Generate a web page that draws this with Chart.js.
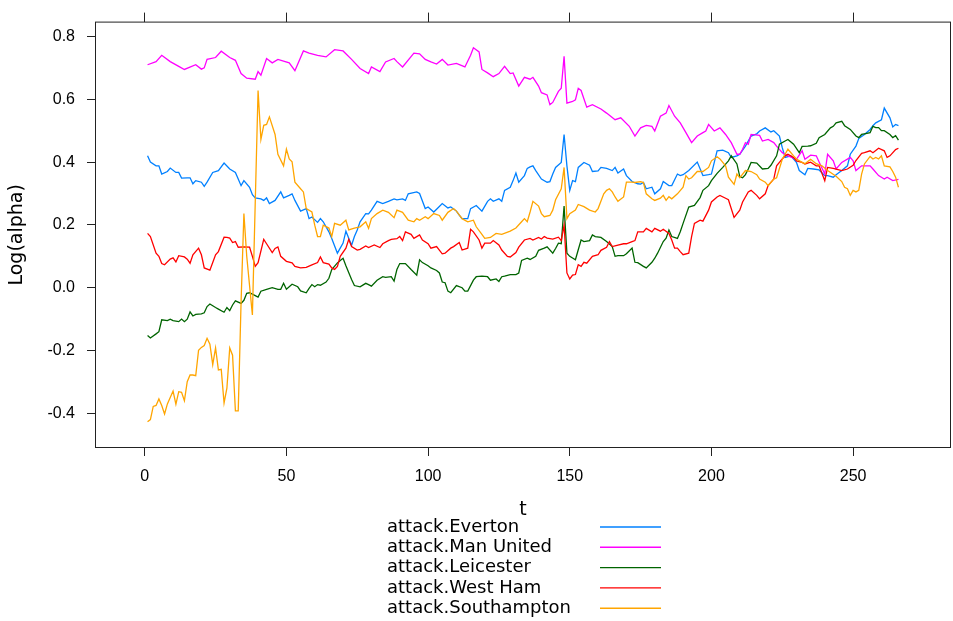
<!DOCTYPE html>
<html lang="en">
<head>
<meta charset="UTF-8">
<title>Log(alpha) over t</title>
<style>
  body { margin: 0; background: #fff; }
  #wrap { width: 953px; height: 621px; }
</style>
<script src="https://cdn.jsdelivr.net/npm/chart.js"></script>
</head>
<body>
<div id="wrap"><canvas id="lineChart" width="953" height="621"></canvas></div>
<script>
// series labels, in key order
const seriesNames = ['attack.Everton', 'attack.Man United', 'attack.Leicester', 'attack.West Ham', 'attack.Southampton'];
// lattice default superpose colours
const seriesColors = ['#0080ff', '#ff00ff', '#006400', '#ff0000', '#ffa500'];

const xTicks = [0, 50, 100, 150, 200, 250];
const yTicks = [-0.4, -0.2, 0.0, 0.2, 0.4, 0.6, 0.8];

// values (t, log alpha)
const evertonT = [1,2,4,5,6,8,9,11,12,13,
  15,16,17,18,20,21,22,24,26,28,
  30,32,33,34,35,37,38,39,41,42,
  43,44,46,48,49,51,52,53,55,57,
  58,59,61,62,63,65,66,68,70,71,
  73,74,75,76,78,79,80,82,84,86,
  88,89,91,92,93,96,97,99,100,102,
  103,105,107,108,110,111,112,114,115,117,
  119,121,122,123,125,126,127,129,130,131,
  132,134,135,136,137,138,140,142,143,144,
  145,147,148,149,150,151,152,153,155,157,
  158,160,161,163,165,166,167,169,170,172,
  174,175,176,177,179,180,182,183,185,186,
  188,189,190,192,195,197,199,200,202,204,
  206,207,209,210,212,214,216,217,219,221,
  222,224,225,226,228,230,231,233,234,236,
  238,240,241,243,244,246,248,249,251,252,
  254,256,257,258,260,261,263,264,265,266];
const evertonV = [.42,.40,.388,.388,.362,.37,.381,.367,.367,.349,
  .35,.35,.331,.341,.336,.323,.336,.367,.373,.397,
  .378,.367,.346,.325,.341,.32,.296,.286,.283,.278,
  .286,.268,.278,.305,.286,.294,.299,.278,.244,.252,
  .22,.225,.208,.22,.21,.178,.157,.11,.142,.18,
  .135,.163,.184,.21,.236,.235,.247,.275,.268,.275,
  .283,.28,.283,.278,.299,.305,.30,.252,.257,.241,
  .25,.268,.254,.257,.244,.231,.22,.22,.252,.262,
  .244,.275,.283,.275,.283,.275,.31,.32,.341,.365,
  .336,.357,.38,.385,.388,.373,.346,.336,.338,.362,
  .383,.399,.488,.388,.31,.341,.338,.383,.399,.39,
  .37,.372,.383,.38,.373,.383,.365,.378,.357,.338,
  .331,.33,.335,.315,.32,.299,.315,.338,.325,.325,
  .362,.357,.36,.373,.40,.357,.36,.362,.436,.438,
  .43,.415,.42,.425,.451,.483,.49,.499,.509,.496,
  .50,.483,.446,.415,.42,.399,.373,.36,.38,.378,
  .375,.357,.357,.352,.36,.373,.388,.425,.451,.475,
  .488,.504,.516,.525,.535,.572,.541,.512,.52,.516];

const manUtdT = [1,4,6,9,12,14,18,20,21,22,
  25,27,30,32,34,36,39,40,41,43,
  45,47,51,53,56,58,61,64,67,70,
  73,76,79,80,83,85,88,89,91,95,
  97,99,101,103,105,107,110,113,115,116,
  118,119,121,123,125,127,129,130,132,134,
  136,137,139,140,142,143,144,146,147,148,
  149,151,152,153,154,156,158,161,163,166,
  168,171,173,175,177,179,180,182,184,185,
  187,189,191,193,195,197,198,199,201,203,
  205,207,209,210,211,212,213,214,217,218,
  220,222,223,225,227,230,232,233,235,237,
  238,240,241,243,244,246,249,250,251,253,
  256,257,259,261,262,264,266];
const manUtdV = [.71,.72,.74,.72,.705,.695,.71,.696,.70,.727,
  .733,.753,.733,.724,.682,.667,.664,.688,.677,.73,
  .716,.727,.716,.691,.754,.747,.74,.735,.758,.754,
  .727,.698,.682,.703,.688,.719,.73,.72,.703,.747,
  .745,.727,.719,.712,.727,.709,.714,.703,.74,.764,
  .751,.695,.684,.672,.682,.705,.682,.684,.642,.670,
  .664,.67,.642,.621,.614,.583,.59,.625,.635,.737,
  .588,.593,.598,.635,.628,.575,.583,.569,.556,.535,
  .541,.514,.483,.509,.517,.514,.499,.546,.556,.58,
  .546,.525,.494,.462,.483,.494,.499,.52,.499,.509,
  .488,.462,.425,.425,.441,.462,.457,.488,.485,.467,
  .472,.462,.451,.43,.42,.409,.436,.409,.422,.42,
  .40,.362,.425,.404,.378,.399,.415,.404,.373,.388,
  .388,.378,.357,.346,.352,.341,.345];

const leicesterT = [1,2,4,5,6,8,9,10,12,13,
  14,15,16,17,18,20,21,22,23,25,
  26,28,29,30,31,32,34,35,36,37,
  39,40,41,43,45,47,48,49,50,52,
  54,55,57,58,59,60,61,62,64,65,
  66,68,69,70,71,73,74,76,78,79,
  80,82,84,85,87,88,89,90,92,94,
  96,97,98,100,101,103,104,105,106,107,
  108,110,112,113,114,116,117,119,121,122,
  124,125,126,127,129,131,132,133,135,136,
  138,139,141,142,144,145,146,147,148,149,
  150,152,153,154,155,157,158,159,161,163,
  165,166,167,169,170,172,173,174,176,177,
  179,180,181,183,184,185,186,188,189,190,
  192,194,196,197,199,200,202,204,206,207,
  209,210,211,212,213,214,216,218,220,221,
  223,224,226,227,229,231,232,234,235,237,
  238,240,242,243,244,246,247,249,251,252,
  253,254,256,257,258,259,260,261,263,264,
  265,266];
const leicesterV = [-.152,-.16,-.147,-.14,-.102,-.105,-.10,-.105,-.108,-.10,
  -.108,-.10,-.077,-.09,-.085,-.083,-.08,-.06,-.052,-.063,
  -.068,-.078,-.063,-.073,-.055,-.042,-.05,-.04,-.018,-.016,
  -.025,-.03,-.011,-.005,0,-.005,-.005,.014,-.005,.011,
  .003,-.01,-.016,-.002,.01,.003,.01,.008,.018,.03,
  .058,.079,.087,.094,.07,.026,.007,.003,.014,.01,
  .005,.024,.035,.033,.035,.021,.058,.077,.077,.058,
  .04,.089,.08,.07,.063,.055,.047,.018,.016,-.011,
  -.016,.007,0,-.011,-.011,.024,.035,.037,.035,.024,
  .028,.02,.035,.037,.042,.042,.047,.087,.094,.09,
  .10,.119,.126,.13,.11,.125,.142,.14,.26,.11,
  .10,.089,.121,.152,.147,.15,.168,.163,.16,.147,
  .131,.10,.102,.102,.108,.126,.081,.08,.068,.063,
  .081,.094,.11,.147,.158,.184,.163,.157,.178,.205,
  .257,.262,.287,.31,.325,.341,.364,.383,.404,.42,
  .394,.354,.35,.36,.378,.399,.397,.378,.38,.39,
  .42,.457,.467,.472,.457,.43,.45,.451,.452,.46,
  .478,.488,.509,.514,.525,.53,.516,.504,.483,.478,
  .488,.49,.494,.514,.51,.51,.50,.50,.488,.478,
  .484,.47];

const westHamT = [1,2,4,5,6,7,9,10,11,12,
  14,15,16,17,19,20,21,23,24,25,
  26,28,29,30,31,32,33,35,37,38,
  39,40,42,43,45,46,47,48,50,52,
  53,55,57,59,61,62,63,65,66,67,
  68,69,71,72,73,75,76,78,79,81,
  83,84,86,87,89,90,91,92,94,95,
  97,98,100,101,103,105,106,108,109,111,
  112,114,115,116,118,119,120,122,123,125,
  126,128,129,131,132,134,136,137,139,140,
  141,142,144,146,147,148,149,150,151,152,
  153,154,155,156,158,160,161,163,164,165,
  167,169,170,172,173,174,176,177,179,180,
  182,183,185,186,187,188,189,190,192,193,
  194,196,197,199,200,202,203,205,206,208,
  210,211,213,214,216,217,219,220,222,223,
  225,226,227,229,230,232,233,235,237,238,
  240,241,243,244,246,248,250,251,253,254,
  256,257,259,261,262,263,265,266];
const westHamV = [.173,.163,.11,.10,.077,.073,.091,.095,.082,.102,
  .098,.091,.078,.105,.126,.105,.063,.056,.08,.105,
  .115,.161,.16,.158,.144,.147,.129,.13,.129,.10,
  .068,.08,.154,.14,.112,.125,.13,.10,.084,.079,
  .068,.063,.065,.073,.08,.098,.08,.075,.063,.058,
  .068,.10,.126,.154,.131,.12,.122,.133,.128,.136,
  .128,.14,.15,.154,.156,.163,.15,.178,.17,.157,
  .168,.152,.14,.126,.131,.108,.11,.126,.131,.144,
  .12,.126,.186,.178,.152,.126,.142,.142,.15,.136,
  .12,.10,.098,.112,.129,.152,.157,.152,.16,.155,
  .163,.158,.155,.161,.15,.199,.047,.028,.04,.042,
  .073,.068,.081,.078,.10,.105,.119,.129,.147,.131,
  .136,.14,.14,.147,.15,.178,.178,.189,.178,.189,
  .18,.186,.173,.152,.126,.126,.115,.105,.11,.163,
  .205,.215,.212,.247,.273,.289,.294,.285,.28,.224,
  .247,.273,.305,.31,.294,.283,.299,.325,.346,.388,
  .41,.42,.425,.415,.404,.399,.394,.40,.388,.388,
  .341,.383,.38,.378,.373,.378,.39,.405,.428,.43,
  .436,.43,.444,.436,.415,.42,.44,.444];

const southamptonT = [1,2,3,4,5,6,7,8,10,11,
  12,13,14,15,16,17,18,19,20,21,
  22,23,24,25,26,27,28,29,30,31,
  32,33,34,35,36,38,40,41,42,43,
  44,46,47,49,50,51,52,53,55,56,
  57,59,60,61,62,63,65,66,67,69,
  71,72,74,76,78,79,80,82,84,86,
  88,89,91,93,95,96,97,99,100,102,
  104,105,107,109,110,112,114,116,117,119,
  120,122,124,126,129,131,133,134,135,136,
  137,139,140,141,143,144,145,147,148,149,
  150,152,153,155,157,159,160,162,163,164,
  165,166,167,169,170,172,173,175,176,177,
  179,180,182,183,184,185,186,188,190,191,
  192,193,195,197,199,200,202,203,205,206,
  208,209,210,212,214,216,217,219,220,222,
  223,225,227,229,230,232,233,235,237,239,
  241,244,246,247,248,249,250,251,252,253,
  254,256,257,258,259,260,261,263,264,265,
  266];
const southamptonV = [-.427,-.42,-.378,-.375,-.354,-.375,-.402,-.37,-.329,-.371,
  -.331,-.333,-.36,-.299,-.278,-.278,-.28,-.199,-.19,-.184,
  -.161,-.18,-.245,-.192,-.262,-.26,-.367,-.32,-.192,-.215,
  -.392,-.392,-.047,.236,.10,-.087,.628,.472,.517,.52,
  .544,.488,.425,.388,.441,.41,.401,.336,.315,.305,
  .252,.241,.199,.163,.163,.199,.19,.163,.205,.199,
  .215,.184,.19,.194,.21,.189,.22,.236,.247,.24,
  .223,.247,.24,.215,.21,.22,.215,.226,.22,.236,
  .23,.215,.24,.252,.244,.22,.21,.215,.194,.17,
  .157,.16,.173,.17,.18,.19,.21,.22,.21,.241,
  .275,.26,.236,.226,.23,.247,.28,.315,.383,.22,
  .236,.247,.265,.258,.247,.241,.252,.299,.31,.315,
  .305,.289,.275,.289,.336,.336,.335,.338,.335,.299,
  .283,.278,.285,.294,.278,.29,.283,.299,.32,.357,
  .346,.35,.37,.37,.383,.404,.417,.41,.388,.352,
  .329,.362,.35,.373,.37,.36,.346,.336,.325,.346,
  .35,.409,.441,.42,.41,.399,.395,.409,.395,.388,
  .373,.355,.338,.32,.315,.294,.31,.305,.31,.362,
  .394,.418,.41,.415,.41,.42,.388,.385,.37,.352,
  .32];

const seriesT = [evertonT, manUtdT, leicesterT, westHamT, southamptonT];
const seriesV = [evertonV, manUtdV, leicesterV, westHamV, southamptonV];

// lattice pads the data range by 7% on each side
function padRange(arrs) {
  const all = arrs.flat();
  const lo = Math.min(...all), hi = Math.max(...all);
  const pad = (hi - lo) * 0.07;
  return [lo - pad, hi + pad];
}
const [xMin, xMax] = padRange(seriesT);
const [yMin, yMax] = padRange(seriesV);

const FRAME = { left: 95, right: 951, top: 15, bottom: 448 };
const tickFont = { family: 'Liberation Sans, Arial, sans-serif', size: 16 };
const titleFont = { family: 'DejaVu Sans', size: 19 };

// box round the panel
const panelBox = {
  id: 'panelBox',
  afterDatasetsDraw(chart) {
    const { ctx, chartArea: a } = chart;
    ctx.save();
    ctx.strokeStyle = '#222';
    ctx.lineWidth = 1;
    ctx.strokeRect(a.left + 0.5, a.top + 0.5, a.right - a.left - 1, a.bottom - a.top - 1);
    ctx.restore();
  }
};

// lattice style key: label, then a line sample on its right
const latticeKey = {
  id: 'latticeKey',
  afterDraw(chart) {
    const ctx = chart.ctx;
    ctx.save();
    ctx.font = '18px "DejaVu Sans"';
    ctx.textBaseline = 'middle';
    ctx.textAlign = 'left';
    seriesNames.forEach((name, i) => {
      const y = 527 + i * 20.3;
      ctx.fillStyle = '#000';
      ctx.fillText(name, 387, y);
      ctx.beginPath();
      ctx.strokeStyle = seriesColors[i];
      ctx.lineWidth = 1.4;
      ctx.moveTo(600, y);
      ctx.lineTo(661, y);
      ctx.stroke();
    });
    ctx.restore();
  }
};

const datasets = seriesNames.map((name, i) => ({
  label: name,
  data: seriesT[i].map((t, j) => ({ x: t, y: seriesV[i][j] })),
  borderColor: seriesColors[i],
  borderWidth: 1.3,
  pointRadius: 0,
  tension: 0,
  fill: false,
  order: seriesNames.length - i
}));

const setTicks = list => scale => { scale.ticks = list.map(v => ({ value: v })); };

new Chart(document.getElementById('lineChart'), {
  type: 'line',
  data: { datasets },
  plugins: [panelBox, latticeKey],
  options: {
    responsive: false,
    animation: false,
    layout: { padding: { left: 0, right: 953 - FRAME.right, top: 0, bottom: 100 } },
    plugins: { legend: { display: false }, tooltip: { enabled: false } },
    scales: {
      x: {
        type: 'linear',
        position: 'bottom',
        min: xMin,
        max: xMax,
        afterBuildTicks: setTicks(xTicks),
        afterFit: s => { s.height = 621 - 100 - FRAME.bottom; },
        grid: { drawOnChartArea: false, drawTicks: true, tickLength: 8, color: '#222' },
        border: { display: false },
        ticks: { color: '#000', font: tickFont, padding: 11, maxRotation: 0, callback: v => String(v) },
        title: { display: true, text: 't', color: '#000', font: titleFont, padding: { top: 0, bottom: 0 } }
      },
      xTop: {
        type: 'linear',
        position: 'top',
        min: xMin,
        max: xMax,
        afterBuildTicks: setTicks(xTicks),
        afterFit: s => { s.height = FRAME.top; },
        grid: { drawOnChartArea: false, drawTicks: true, tickLength: 9, color: '#222' },
        border: { display: false },
        ticks: { display: false }
      },
      y: {
        type: 'linear',
        position: 'left',
        min: yMin,
        max: yMax,
        afterBuildTicks: setTicks(yTicks),
        afterFit: s => { s.width = FRAME.left; },
        grid: { drawOnChartArea: false, drawTicks: true, tickLength: 8, color: '#222' },
        border: { display: false },
        ticks: { color: '#000', font: tickFont, padding: 12, callback: v => v.toFixed(1) },
        title: { display: true, text: 'Log(alpha)', color: '#000', font: titleFont, padding: { top: 6, bottom: 0 } }
      }
    }
  }
});
</script>
</body>
</html>
